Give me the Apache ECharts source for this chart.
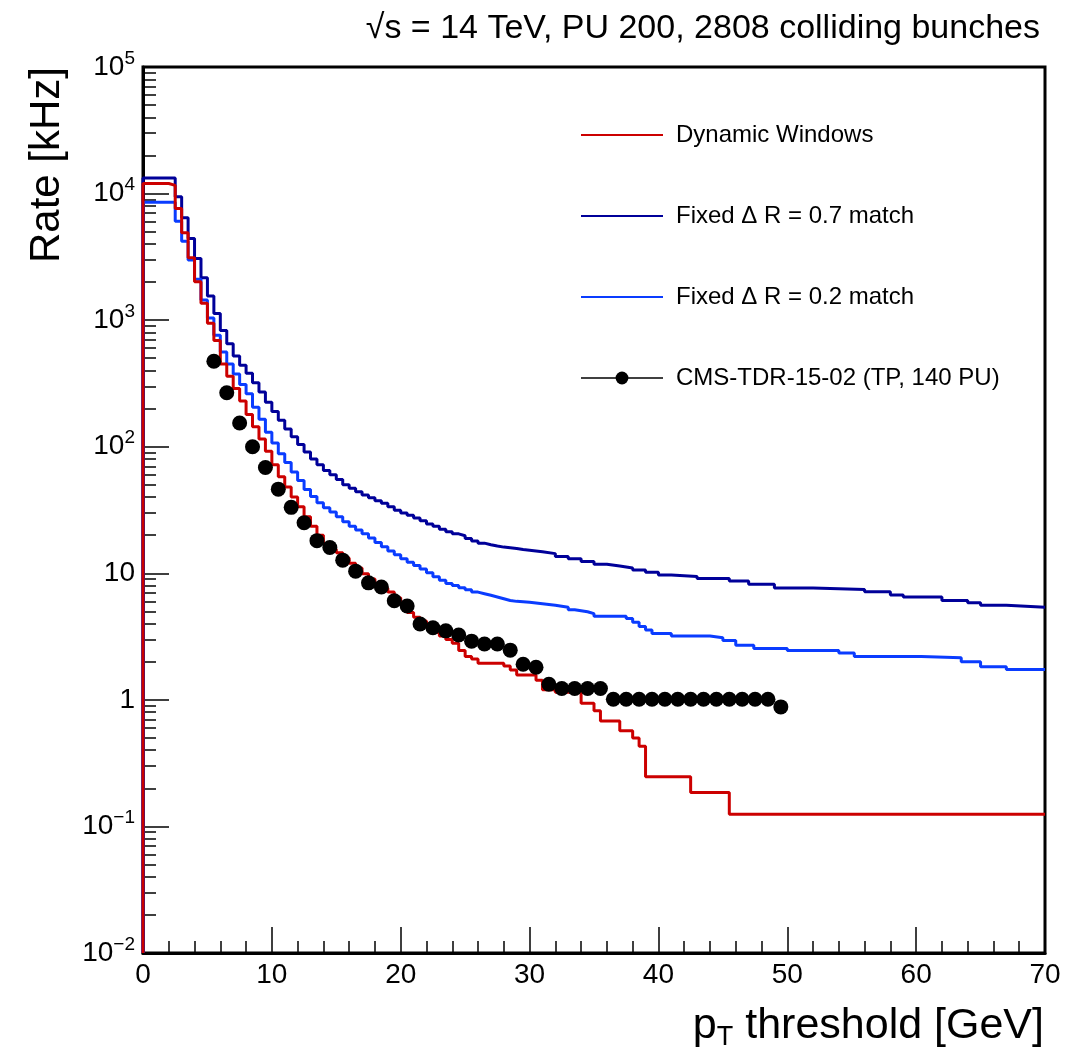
<!DOCTYPE html>
<html>
<head>
<meta charset="utf-8">
<script src="https://cdn.jsdelivr.net/npm/echarts@6/dist/echarts.min.js"></script>
<style>
  html, body { margin: 0; padding: 0; background: #fff; }
  #chart { width: 1070px; height: 1058px; }
</style>
</head>
<body>
<div id="chart"></div>
<script>
// rate vs pT threshold, histograms given as bin low edges + rate in kHz
const xMax = 70
const yMin = 0.01

const dynLo = [0, 2, 2.5, 3, 3.5, 4, 4.5, 5, 5.5, 6, 6.5, 7, 7.5, 8, 8.5, 9, 9.5, 10, 10.5, 11, 11.5, 12, 12.5, 13, 13.5, 14, 14.5, 15, 15.5, 16, 16.5, 17, 17.5, 18, 18.5, 19, 19.5, 20, 20.5, 21, 21.5, 22, 22.5, 23, 23.5, 24, 24.5, 25, 25.5, 26, 28, 28.5, 29, 30.5, 31, 32, 34, 35, 35.5, 37, 38, 38.5, 39, 42.5, 45.5]
const dynRate = [12000, 11600, 7620, 4900, 3105, 2010, 1362, 946, 690, 450, 360, 289, 230, 180, 144, 115, 92, 72, 58, 48, 40, 33.5, 28, 23.5, 20, 17.2, 15.5, 14.5, 13.2, 12, 11, 9.9, 9.0, 8.2, 7.6, 7.1, 6.4, 5.6, 4.9, 4.5, 4.2, 3.8, 3.4, 3.2, 3.0, 2.8, 2.45, 2.2, 2.1, 1.95, 1.85, 1.72, 1.57, 1.43, 1.2, 1.15, 0.94, 0.82, 0.68, 0.57, 0.5, 0.43, 0.247, 0.185, 0.125]

const fix07Lo = [0, 2.5, 3, 3.5, 4, 4.5, 5, 5.5, 6, 6.5, 7, 7.5, 8, 8.5, 9, 9.5, 10, 10.5, 11, 11.5, 12, 12.5, 13, 13.5, 14, 14.5, 15, 15.5, 16, 16.5, 17, 17.5, 18, 18.5, 19, 19.5, 20, 20.5, 21, 21.5, 22, 22.5, 23, 23.5, 24, 24.5, 25, 25.5, 26, 26.5, 27, 27.5, 28, 28.5, 29, 29.5, 30, 31, 32, 33, 34, 35, 36, 37, 38, 39, 40, 41, 43, 45.5, 47, 49, 52, 56, 58, 59, 62, 64, 65, 67]
const fix07Rate = [13300, 9420, 6430, 4420, 3070, 2160, 1550, 1130, 830, 650, 520, 440, 380, 320, 270, 225, 190, 162, 138, 120, 104, 91, 80, 72, 65, 60, 55, 50, 47, 44, 41.5, 39.5, 37.5, 35.8, 33.5, 31.5, 30, 28.7, 27.3, 26, 24.5, 23.5, 22.3, 21.3, 20.5, 19.8, 18.8, 18, 17.3, 16.8, 16.4, 16.1, 15.9, 15.7, 15.4, 15.2, 14.8, 14.3, 13.6, 13.0, 12.4, 11.8, 11.4, 11.0, 10.6, 10.2, 9.7, 9.45, 9.1, 8.7, 8.2, 7.65, 7.45, 7.15, 6.75, 6.5, 6.1, 5.85, 5.6, 5.4]

const fix02Lo = [0, 2.5, 3, 3.5, 4, 4.5, 5, 5.5, 6, 6.5, 7, 7.5, 8, 8.5, 9, 9.5, 10, 10.5, 11, 11.5, 12, 12.5, 13, 13.5, 14, 14.5, 15, 15.5, 16, 16.5, 17, 17.5, 18, 18.5, 19, 19.5, 20, 20.5, 21, 21.5, 22, 22.5, 23, 23.5, 24, 24.5, 25, 25.5, 26, 26.5, 27, 27.5, 28, 28.5, 29, 30, 31, 32, 33, 33.5, 34.5, 35, 37.5, 38, 38.5, 39, 39.5, 41, 44, 45, 46, 47.4, 50, 54, 55.2, 60.4, 63.5, 65, 67]
const fix02Rate = [8550, 6050, 4210, 2980, 2100, 1440, 1040, 760, 560, 450, 375, 310, 262, 205, 165, 130, 107, 88, 75, 63, 54, 46, 40.5, 36, 33, 30.5, 28, 25.5, 23.5, 22, 20.5, 19, 17.5, 16.2, 15, 14, 13, 12.2, 11.5, 10.8, 10.1, 9.4, 8.8, 8.3, 8.0, 7.7, 7.4, 7.1, 6.9, 6.7, 6.5, 6.3, 6.1, 6.0, 5.9, 5.75, 5.6, 5.4, 5.15, 4.97, 4.8, 4.58, 4.4, 4.1, 3.8, 3.56, 3.35, 3.2, 3.1, 2.95, 2.7, 2.55, 2.45, 2.35, 2.2, 2.15, 2.0, 1.83, 1.74]

// CMS-TDR-15-02 points (TP, 140 PU)
const tdrPt = [5.5, 6.5, 7.5, 8.5, 9.5, 10.5, 11.5, 12.5, 13.5, 14.5, 15.5, 16.5, 17.5, 18.5, 19.5, 20.5, 21.5, 22.5, 23.5, 24.5, 25.5, 26.5, 27.5, 28.5, 29.5, 30.5, 31.5, 32.5, 33.5, 34.5, 35.5, 36.5, 37.5, 38.5, 39.5, 40.5, 41.5, 42.5, 43.5, 44.5, 45.5, 46.5, 47.5, 48.5, 49.5]
const tdrRate = [474, 267, 154, 100, 68.6, 46.2, 33.2, 25.1, 18.1, 16.0, 12.7, 10.4, 8.4, 7.8, 6.07, 5.51, 3.97, 3.71, 3.51, 3.25, 2.91, 2.76, 2.76, 2.47, 1.91, 1.81, 1.33, 1.23, 1.23, 1.23, 1.23, 1.01, 1.01, 1.01, 1.01, 1.01, 1.01, 1.01, 1.01, 1.01, 1.01, 1.01, 1.01, 1.01, 0.88]

const xTicks = [0, 10, 20, 30, 40, 50, 60, 70]
const yDecades = [0.01, 0.1, 1, 10, 100, 1000, 10000, 100000]

const font = 'Liberation Sans, Arial, Helvetica, sans-serif'

let yMinor = []
for (let d = 0; d < yDecades.length - 1; d++) {
  for (let k = 2; k <= 9; k++) yMinor.push(+(yDecades[d] * k).toPrecision(3))
}

function histPath(lo, rate) {
  let pts = [[lo[0], yMin]]
  for (let i = 0; i < lo.length; i++) {
    let hi = i + 1 < lo.length ? lo[i + 1] : xMax
    pts.push([lo[i], rate[i]], [hi, rate[i]])
  }
  return pts
}

const names = ['Dynamic Windows', 'Fixed \u0394 R = 0.7 match', 'Fixed \u0394 R = 0.2 match', 'CMS-TDR-15-02 (TP, 140 PU)']
const noDot = { opacity: 0 }

let chart = echarts.init(document.getElementById('chart'))
let option = {
  animation: false,
  backgroundColor: '#fff',
  textStyle: { fontFamily: font },
  grid: {
    left: 143, right: 25, top: 67, bottom: 105,
    show: true, borderColor: '#000', borderWidth: 3
  },
  legend: {
    orient: 'vertical',
    left: 575,
    top: 118,
    itemWidth: 82,
    itemHeight: 16,
    itemGap: 57,
    textStyle: { fontSize: 24, color: '#000', fontFamily: font, padding: [0, 0, 0, 8] },
    data: [
      { name: names[0], itemStyle: noDot },
      { name: names[1], itemStyle: noDot },
      { name: names[2], itemStyle: noDot },
      { name: names[3], lineStyle: { opacity: 1, width: 1.5, color: '#000' } }
    ]
  },
  xAxis: {
    type: 'value',
    min: 0,
    max: xMax,
    interval: 10,
    axisLine: { show: true, onZero: false, lineStyle: { color: '#000', width: 3 } },
    axisTick: { show: true, inside: true, length: 26, lineStyle: { color: '#000', width: 1.5 } },
    minorTick: { show: true, splitNumber: 5, length: 12, lineStyle: { color: '#000', width: 1.5 } },
    splitLine: { show: false },
    axisLabel: {
      fontSize: 28, color: '#000', fontFamily: font, margin: 8,
      customValues: xTicks
    }
  },
  yAxis: [
    {
      type: 'log',
      logBase: 10,
      min: yMin,
      max: 100000,
      position: 'left',
      axisLine: { show: true, lineStyle: { color: '#000', width: 3 } },
      axisTick: { show: true, inside: true, length: 26, customValues: yDecades, lineStyle: { color: '#000', width: 1.5 } },
      splitLine: { show: false },
      axisLabel: {
        margin: 8,
        customValues: yDecades,
        formatter(v) {
          let e = Math.round(Math.log10(v))
          if (e === 0) return '{b|1}'
          if (e === 1) return '{b|10}'
          return '{b|10}{s|' + (e < 0 ? '\u2212' + (-e) : e) + '}'
        },
        rich: {
          b: { fontSize: 28, lineHeight: 36, color: '#000', fontFamily: font },
          s: { fontSize: 19, lineHeight: 19, verticalAlign: 'top', color: '#000', fontFamily: font }
        }
      }
    },
    {
      type: 'log',
      logBase: 10,
      min: yMin,
      max: 100000,
      position: 'left',
      offset: 0,
      axisLine: { show: false },
      axisTick: { show: true, inside: true, length: 13, customValues: yMinor, lineStyle: { color: '#000', width: 1.5 } },
      axisLabel: { show: false },
      splitLine: { show: false }
    }
  ],
  graphic: [
    {
      type: 'text',
      right: 30,
      top: 12,
      style: {
        text: '\u221As = 14 TeV, PU 200, 2808 colliding bunches',
        fontSize: 34, fontFamily: font, fill: '#000'
      }
    },
    {
      type: 'text',
      x: 26,
      y: 67,
      rotation: Math.PI / 2,
      style: {
        text: 'Rate [kHz]',
        fontSize: 42, fontFamily: font, fill: '#000',
        align: 'right', verticalAlign: 'top'
      }
    },
    {
      type: 'text',
      x: 1044,
      y: 1026,
      style: {
        text: '{a|p}{t|T}{a| threshold [GeV]}',
        align: 'right', verticalAlign: 'middle',
        rich: {
          a: { fontSize: 43, fontFamily: font, fill: '#000', lineHeight: 50 },
          t: { fontSize: 27, fontFamily: font, fill: '#000', verticalAlign: 'bottom', lineHeight: 27 }
        }
      }
    }
  ],
  series: [
    {
      name: names[1],
      type: 'line',
      data: histPath(fix07Lo, fix07Rate),
      showSymbol: false,
      symbol: 'none',
      color: '#000099',
      lineStyle: { width: 3, color: '#000099' },
      z: 2
    },
    {
      name: names[2],
      type: 'line',
      data: histPath(fix02Lo, fix02Rate),
      showSymbol: false,
      symbol: 'none',
      color: '#0a3cff',
      lineStyle: { width: 3, color: '#0a3cff' },
      z: 3
    },
    {
      name: names[0],
      type: 'line',
      data: histPath(dynLo, dynRate),
      showSymbol: false,
      symbol: 'none',
      color: '#cc0000',
      lineStyle: { width: 3, color: '#cc0000' },
      z: 4
    },
    {
      name: names[3],
      type: 'line',
      data: tdrPt.map((x, i) => [x, tdrRate[i]]),
      symbol: 'circle',
      symbolSize: 15,
      color: '#000',
      itemStyle: { color: '#000' },
      lineStyle: { width: 1.5, color: '#000', opacity: 0 },
      z: 5
    }
  ]
}
chart.setOption(option)
</script>
</body>
</html>
